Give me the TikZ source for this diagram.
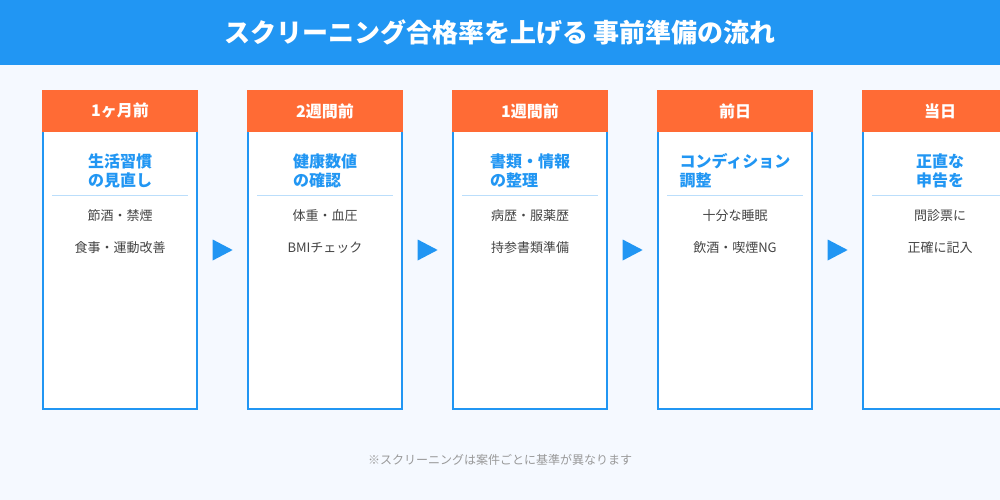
\documentclass[tikz,border=0pt]{standalone}
\usepackage{fontspec}
\setmainfont{Noto Sans CJK JP}
\usetikzlibrary{shapes.geometric,calc,positioning}
\definecolor{barblue}{HTML}{2196F3}
\definecolor{headorange}{HTML}{FF6B35}
\definecolor{pagebg}{HTML}{F5F9FF}
\definecolor{rulecol}{HTML}{BBDEFB}
\definecolor{itemgray}{HTML}{444444}
\definecolor{notegray}{HTML}{999999}
\tikzset{
  card/.style={draw=barblue,line width=2pt,fill=white,minimum width=154pt,minimum height=318pt,inner sep=0pt},
  head/.style={fill=headorange,minimum width=156pt,minimum height=42pt,inner sep=0pt,text=white,font=\bfseries\fontsize{16}{18}\selectfont},
  goal/.style={align=left,text=barblue,inner sep=0pt,font=\bfseries\fontsize{16}{19}\selectfont},
  item/.style={text=itemgray,inner sep=0pt,font=\fontsize{13}{15}\selectfont},
  divider/.style={draw=rulecol,line width=1pt},
  nextarrow/.style={isosceles triangle,isosceles triangle stretches,fill=barblue,minimum width=21pt,minimum height=20pt,inner sep=0pt,xshift=-3.5pt}
}

\begin{document}
\begin{tikzpicture}[x=1pt,y=-1pt]
  \clip (0,0) rectangle (1000,500);
  \fill[pagebg] (0,0) rectangle (1000,500);
  \node[fill=barblue,minimum width=1000pt,minimum height=65pt,inner sep=0pt,text=white,font=\bfseries\fontsize{26}{30}\selectfont] (bar) at (500,32.5) {スクリーニング合格率を上げる 事前準備の流れ};

  % 1ヶ月前
  \node[card] (c1) at (120,250) {};
  \node[head] (h1) at (120,111) {1ヶ月前};
  \node[goal] (g1) at (120,171) {生活習慣\\の見直し};
  \coordinate (l1) at (52,195);
  \coordinate (r1) at (188,195);
  \draw[divider] (l1) -- (r1);
  \node[item] (p1) at (120,216) {節酒・禁煙};
  \node[item] (q1) at (120,248) {食事・運動改善};

  % 2週間前
  \node[card] (c2) at (325,250) {};
  \node[head] (h2) at (325,111) {2週間前};
  \node[goal] (g2) at (325,171) {健康数値\\の確認};
  \coordinate (l2) at (257,195);
  \coordinate (r2) at (393,195);
  \draw[divider] (l2) -- (r2);
  \node[item] (p2) at (325,216) {体重・血圧};
  \node[item] (q2) at (325,248) {BMIチェック};

  % 1週間前
  \node[card] (c3) at (530,250) {};
  \node[head] (h3) at (530,111) {1週間前};
  \node[goal] (g3) at (530,171) {書類・情報\\の整理};
  \coordinate (l3) at (462,195);
  \coordinate (r3) at (598,195);
  \draw[divider] (l3) -- (r3);
  \node[item] (p3) at (530,216) {病歴・服薬歴};
  \node[item] (q3) at (530,248) {持参書類準備};

  % 前日
  \node[card] (c4) at (735,250) {};
  \node[head] (h4) at (735,111) {前日};
  \node[goal] (g4) at (735,171) {コンディション\\調整};
  \coordinate (l4) at (667,195);
  \coordinate (r4) at (803,195);
  \draw[divider] (l4) -- (r4);
  \node[item] (p4) at (735,216) {十分な睡眠};
  \node[item] (q4) at (735,248) {飲酒・喫煙NG};

  % 当日
  \node[card] (c5) at (940,250) {};
  \node[head] (h5) at (940,111) {当日};
  \node[goal] (g5) at (940,171) {正直な\\申告を};
  \coordinate (l5) at (872,195);
  \coordinate (r5) at (1008,195);
  \draw[divider] (l5) -- (r5);
  \node[item] (p5) at (940,216) {問診票に};
  \node[item] (q5) at (940,248) {正確に記入};

  % arrows between cards
  \node[nextarrow] (n1) at ($(c1.east)!0.5!(c2.west)$) {};
  \node[nextarrow] (n2) at ($(c2.east)!0.5!(c3.west)$) {};
  \node[nextarrow] (n3) at ($(c3.east)!0.5!(c4.west)$) {};
  \node[nextarrow] (n4) at ($(c4.east)!0.5!(c5.west)$) {};

  \node[text=notegray,font=\fontsize{12}{14}\selectfont] (note) at (500,460) {※スクリーニングは案件ごとに基準が異なります};
\end{tikzpicture}
\end{document}
